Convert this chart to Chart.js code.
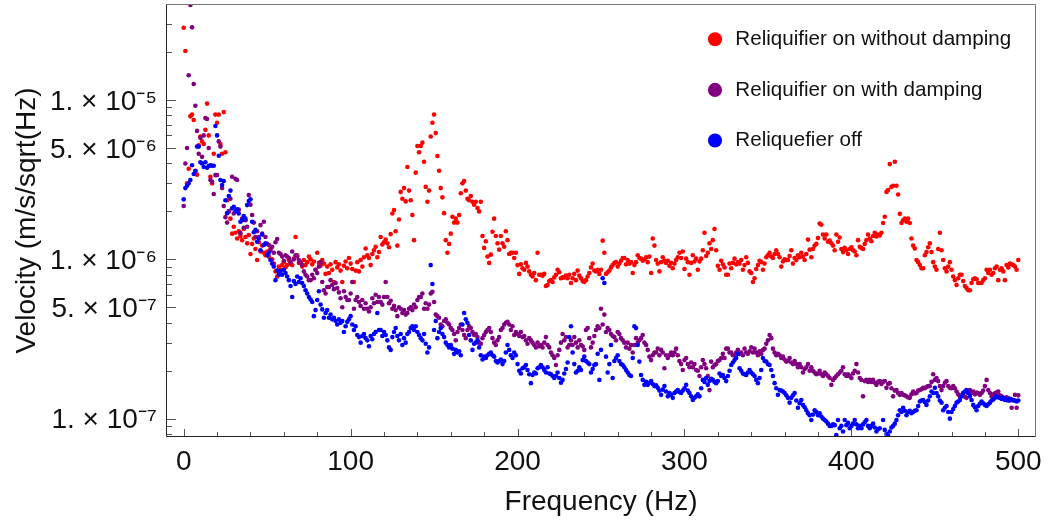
<!DOCTYPE html>
<html><head><meta charset="utf-8">
<script src="https://cdn.jsdelivr.net/npm/chart.js@4/dist/chart.umd.min.js"></script>
<style>html,body{margin:0;padding:0;background:#fff;}#wrap{width:1049px;height:525px;}</style>
</head><body><div id="wrap"><canvas id="c" width="1049" height="525"></canvas></div>
<script>
const seriesLabels = ['Reliquifier on without damping', 'Reliquifier on with damping', 'Reliquefier off'];
const seriesColors = ['#ff0000', '#800080', '#0000ff'];
const valueUnit = 1e-7; // values below are in units of 1e-7 m/s/sqrt(Hz)
const freqHz = Array.from({length: 501}, (_, i) => i); // 0..500 Hz, 1 Hz bins

const onNoDamping = [
284,203,30,37,79,81,75,36,34,52,
59,55,53,65,95,60,33,30,46,81,
72,81,53,46,84,47,23.5,20,18,14.5,
16,14.7,13.5,15,14,13.2,15.5,13.8,12.6,14.2,
10.8,12.5,13.5,11.6,9.9,12.8,11.2,12.2,11,10.6,
11.2,10.4,11.7,10,9.4,8.4,7.8,9,8.6,9.2,
9.6,8.9,9.2,9.9,9.4,9.2,10.1,13.8,10.6,9.5,
9.6,9.0,9.9,9.2,9.6,10.4,10,9.3,9.7,8.6,
11,9.5,9.1,9.9,9.4,8.1,9.0,8.2,9.3,8.6,
7.2,9.6,8.9,9.3,8.5,7.2,9.1,9.7,8.8,10.2,
9.4,8.7,7.2,8.5,9.6,8.4,9.9,9.0,10.3,11.7,
10.6,10.2,9.2,10.8,11.4,12,10.3,11.1,13.8,12.4,
12.8,13.3,12.6,11.9,14.4,19.4,20.4,15,12.2,17.8,
26.5,24,28,23.1,38,27,23.5,19,13.2,35,
51.5,47,51.5,54,41,28.5,23,27,59,72,
81,62,44.5,36,28,24.5,19.5,13.2,11,12.5,
14.5,18.5,17,18,17,19,26,30,31,27,
24,23.5,25,23,22,23,21,20,23,14,
11.8,13,10.4,9.5,10.7,14.9,18,14,12.6,11.5,
14,12.6,12,15,13.2,10.8,11,11,10.2,11,
9.2,8.1,9.3,8.8,8.6,9.5,9.0,8.4,8,7.8,
8.2,7.4,11,8,8,7.9,8.1,6.8,6.9,7.3,
7.4,7.2,7.7,8.0,8.6,8.3,7.6,7.7,7.7,7.9,
7.6,8.0,7.1,7.6,8.1,7.4,8.5,7.9,7.6,7.3,
7.2,7.4,7.8,8.2,8.9,9.4,8.5,8.4,8.6,8.1,
8.6,13.1,11,8.1,8.3,8.5,8.9,9.2,9.5,9.6,
9,9.4,9.8,10.2,10.2,9.3,9.9,9.4,9.6,8.2,
9.2,9.6,10.6,10.2,10.1,9.8,10,10.3,9.6,10.4,
8.2,13.5,12.2,9.9,9.4,8.4,9.6,10.3,9.8,9.5,
9.8,9.1,9.5,8.8,9.4,9.9,10.3,11,10.2,11.2,
8.7,10.1,9.6,8,9.5,10.6,9.7,10.1,8.6,9.7,
10.1,11.4,14.7,10.5,11,12.6,11.6,13.2,15.5,11.4,
9.1,8.6,9.8,9.3,8.9,8,8,9.4,8.8,9.5,
10.1,9.3,9.6,9.4,9.9,8.6,9.2,10.3,9.5,8.4,
8.2,7.2,7.6,8.7,9.2,9.8,9.6,8.6,9.4,10.3,
10.6,11,10.4,10.2,10.8,11.4,10.8,10.3,9,9.7,
10,9.9,9.9,10.5,11.4,9.4,10.2,9.9,10.6,10.3,
11,10.4,9.9,10.8,13.3,11.5,10.3,11.6,12.2,12.5,
13.6,16.8,16.5,14.3,13.5,14.3,12.9,13.1,12.6,12.2,
11.4,14.3,12.9,13.7,11.6,11.1,11.8,11.4,10.8,11.6,
11.9,11.4,11.2,10.6,13.2,12,11.8,11.6,12.5,13.2,
14.3,13.5,13,14,14.7,13.9,14.3,14.1,14.7,16.9,
18.5,26.5,27.2,39.6,28.5,29,41,29,25.5,19.3,
16.9,17.6,18,17.2,18,16.9,13.5,12.2,11.7,9.9,
9.6,9.2,8.8,8.8,10.6,11.1,11.9,12.6,11.1,9.6,
9.0,8.6,11.6,14.7,11.4,9.9,8.8,8.4,9,9.6,
8.6,7.8,7.4,6.9,7.6,8,8,7.3,6.8,6.6,
6.4,6.4,7.1,7.5,7.6,7.5,7.1,7.1,7.1,7.4,
7.6,8.6,8.2,8.6,8.0,8.2,8.8,9,7.4,8.6,
8.8,8.4,7.4,9.2,8.9,9.4,9.3,9.2,9,8.6,
9.9];

const onWithDamping = [
21.6,40,50,143,395,286,126,92,64,46,
58,44,60,77,76,50,31.5,30.7,25.7,33.8,
33.8,55,51,28,21.6,18.4,17,20,24,33,
19.4,32,31.5,20.5,14.6,18,15.8,17.6,16,25.3,
22,19,17,13.8,15,13.8,16.4,14.5,17.2,13.8,
12.5,12.3,11.4,12,11,12.8,13.4,11,10.8,10.4,
9.8,10.6,10.4,10.2,9.6,11.2,10,10.6,10.4,9.9,
9.5,9.2,8.4,8,7.8,7.4,7.4,8,7.6,8.6,
8.2,9,9.6,7.2,6.4,6.1,6.7,6.7,7.4,6.9,
6.5,7.1,6.6,6.2,5.7,5,6.3,5.8,5.55,5.55,
6.1,7.2,4.9,5.55,5.8,5.4,5.1,5.55,4.9,5.3,
4.9,4.7,5.0,5.7,5.3,6,5.4,5.8,5.4,5.2,
5.8,7.2,5.8,5.3,5.5,4.9,5.1,4.8,4.4,5.0,
4.9,4.6,4.8,4.5,4.6,4.9,5.0,4.8,5.2,5.0,
5.55,5.8,5.8,6.1,4.9,5.3,4.9,5.2,6.1,6.25,
5.4,4.5,4.4,4.3,3.9,3.8,4.1,4.2,4.0,3.9,
3.7,3.6,3.4,3.1,3.5,3.7,3.9,3.6,3.35,3.2,
3.6,3.8,3.7,3.5,3.35,3.4,3.25,3.0,2.95,3.2,
3.35,3.5,3.6,3.7,3.5,3.2,3.0,2.9,3.1,3.25,
3.6,3.7,3.9,4.0,4.05,3.9,3.6,3.8,3.35,3.5,
3.4,3.3,3.5,3.25,3.3,3.1,2.95,3.2,3.1,3.0,
2.9,2.8,3.0,2.85,2.9,2.8,3.0,3.25,2.9,2.8,
2.6,2.5,2.4,2.17,2.5,2.7,3.0,3.4,3.1,3.25,
2.8,2.9,3.1,2.9,3.25,3.0,2.8,3.1,2.9,2.85,
2.7,3.6,3.7,3.2,2.8,3.0,3.3,3.6,3.8,3.7,
4.9,3.9,4.5,3.5,3.7,3.6,3.4,3.3,3.25,3.1,
3.5,3.4,3.2,3.1,3.0,2.8,3.0,2.75,2.9,2.6,
2.9,3.2,3.0,3.1,3.2,3.35,3.0,2.9,2.7,2.45,
2.33,2.5,2.6,2.6,2.75,2.5,2.7,2.6,2.07,2.5,
2.4,2.5,2.6,2.5,2.6,2.75,2.5,2.3,2.2,2.02,
2.33,2.4,2.2,2.1,2.25,2.1,2.2,2.02,2.0,1.85,
2.1,2.33,2.2,2.07,1.85,1.51,2.28,2.1,2.17,2.2,
2.3,2.33,2.4,2.55,2.4,2.75,2.75,2.6,2.6,2.5,
2.5,2.6,2.7,2.55,2.6,2.5,2.75,2.6,2.55,2.65,
2.8,2.6,2.75,2.6,2.5,2.65,2.55,2.7,2.75,2.95,
3.1,3.35,3.2,2.75,2.6,2.5,2.55,2.5,2.4,2.45,
2.35,2.28,2.3,2.4,2.25,2.2,2.3,2.2,2.1,2.2,
2.1,1.95,2.05,2.1,2.2,2.0,2.1,2.0,1.95,1.9,
1.92,2.0,1.9,1.85,1.95,1.9,1.85,1.8,1.63,1.75,
1.8,1.85,1.9,1.95,2.0,2.1,1.9,1.85,1.9,1.85,
1.8,1.92,2.0,2.2,1.95,1.8,1.75,1.38,1.72,1.75,
1.7,1.75,1.7,1.75,1.68,1.63,1.7,1.72,1.65,1.7,
1.72,1.56,1.65,1.67,1.55,1.38,1.5,1.51,1.45,1.41,
1.45,1.41,1.4,1.38,1.36,1.35,1.42,1.48,1.44,1.45,
1.5,1.51,1.53,1.56,1.55,1.58,1.6,1.6,1.7,1.9,
1.75,1.8,1.72,1.6,1.51,1.6,1.68,1.72,1.6,1.56,
1.55,1.6,1.55,1.48,1.42,1.38,1.4,1.45,1.37,1.35,
1.45,1.51,1.45,1.48,1.42,1.46,1.44,1.41,1.45,1.5,
1.6,1.75,1.51,1.45,1.38,1.42,1.44,1.46,1.48,1.4,
1.38,1.35,1.31,1.36,1.34,1.3,1.17,1.3,1.41,1.17,
1.4];

const reliqOff = [
23.8,28,29,30,31.5,39,34.3,35.8,51,51,
40.7,40,38,40.7,37.6,38.5,39,38.7,38.7,68.7,
60,44.7,31.5,29.3,31,23.5,19.5,25,27,20.9,
21.4,20,20.6,19.4,17.2,17.6,18.7,18,21.9,23.2,
23.8,17.2,14.8,15.3,12.9,13.5,11.4,14.3,12.3,12.6,
10.6,11,9.9,9.4,9.0,7.4,8.5,8,8.4,8,
8.6,8.2,7.8,7.4,6.8,5.8,7.3,7,7.8,7.2,
7.6,7.1,6.8,6.4,6.1,5.8,5.6,5.4,4.4,4.8,
5.55,6.3,5.2,4.85,4.3,4.6,4.8,4.3,4.5,4.2,
4.3,4.1,3.9,4.2,4.0,4.1,3.5,3.8,4.05,4.2,
4.4,3.9,3.6,3.8,3.35,3.25,3.0,3.3,3.4,3.2,
3.1,2.85,3.3,3.15,3.4,3.5,4.6,3.6,3.6,3.3,
3.5,3.35,3.1,2.8,2.7,3.25,3.5,3.7,3.3,3.1,
3.4,2.9,3.2,3.0,3.4,3.5,3.7,3.8,3.6,3.8,
3.5,3.35,3.2,3.1,3.4,2.95,2.6,2.8,9.2,7.0,
3.6,4.1,3.2,3.5,3.7,3.4,3.25,3.0,2.9,2.8,
2.9,2.75,2.55,2.7,2.6,2.65,2.5,3.9,4.6,4.2,
4.0,3.35,3.1,2.7,2.95,3.0,3.1,2.8,2.5,2.35,
2.45,2.4,2.5,2.55,2.6,2.5,2.45,2.3,2.25,2.3,
2.35,2.2,2.3,2.6,2.9,2.7,2.5,2.4,2.6,2.5,
2.2,2.0,1.92,2.07,2.1,2.17,2.02,1.9,1.67,1.88,
1.95,1.92,2.07,2.1,2.17,2.1,2.02,1.95,2.1,1.92,
1.9,1.85,1.8,1.85,1.95,1.8,1.68,1.75,1.92,2.05,
2.25,3.25,3.8,2.6,2.2,1.95,2.0,2.1,2.02,2.33,
2.45,2.3,2.25,2.2,1.95,2.05,2.17,2.2,2.55,1.75,
2.7,7.6,7.1,2.45,1.95,2.2,2.9,1.8,2.3,2.4,
2.5,2.3,2.2,2.17,2.1,2.02,1.95,1.88,1.85,2.4,
3.8,3.7,2.9,2.28,1.88,1.75,1.63,1.7,1.63,1.68,
1.72,1.65,1.6,1.62,1.56,1.5,1.41,1.52,1.6,1.48,
1.38,1.45,1.41,1.35,1.45,1.48,1.51,1.47,1.45,1.5,
1.55,1.63,1.5,1.45,1.38,1.31,1.35,1.38,1.42,1.38,
1.55,1.75,1.7,1.8,1.63,1.72,1.78,1.75,1.7,1.67,
1.72,1.92,1.85,1.88,1.8,1.72,1.85,2.0,2.17,2.25,
2.33,2.4,2.55,2.07,2.0,1.92,1.9,1.88,1.95,2.02,
1.95,1.9,1.85,1.75,1.67,1.8,2.02,2.4,2.3,2.28,
2.2,2.17,2.02,1.85,1.67,1.55,1.41,1.51,1.5,1.48,
1.45,1.4,1.35,1.26,1.35,1.4,1.45,1.3,1.17,1.25,
1.31,1.22,1.18,1.13,1.08,1.05,0.98,1.06,1.13,1.1,
1.05,1.08,1.03,1.0,0.98,0.96,0.93,0.9,0.9,0.92,
0.91,0.79,0.98,0.87,0.9,0.83,0.98,0.91,0.94,0.87,
0.9,0.93,0.98,0.92,0.87,0.9,0.87,0.92,0.95,0.98,
0.9,0.87,0.9,0.93,0.88,0.83,0.86,0.87,0.75,0.98,
0.85,0.8,0.78,0.83,0.88,0.9,0.93,0.98,1.05,1.13,
1.1,1.17,1.12,1.05,1.1,1.12,1.08,1.1,1.12,1.13,
1.2,1.28,1.3,1.31,1.27,1.22,1.3,1.38,1.48,1.45,
1.56,1.45,1.38,1.3,1.26,1.13,1.17,1.2,1.1,1.0,
1.1,1.15,1.2,1.26,1.28,1.31,1.38,1.45,1.48,1.51,
1.45,1.38,1.31,1.22,1.18,1.13,1.2,1.24,1.28,1.25,
1.22,1.2,1.23,1.26,1.3,1.32,1.35,1.38,1.36,1.35,
1.33,1.35,1.32,1.31,1.3,1.33,1.32,1.31,1.3,1.28,
1.3];

const xTickValues = [0,20,40,60,80,100,120,140,160,180,200,220,240,260,280,300,320,340,360,380,400,420,440,460,480,500];
const xLabeledTicks = [0,100,200,300,400,500];
const yTickValues = [8e-8,9e-8,1e-7,2e-7,3e-7,4e-7,5e-7,6e-7,7e-7,8e-7,9e-7,1e-6,2e-6,3e-6,4e-6,5e-6,6e-6,7e-6,8e-6,9e-6,1e-5,2e-5,3e-5];
const yLabeledTicks = [1e-5, 5e-6, 1e-6, 5e-7, 1e-7];
const yTickLabels = ['1. \u00d7 10\u207b\u2075', '5. \u00d7 10\u207b\u2076', '1. \u00d7 10\u207b\u2076', '5. \u00d7 10\u207b\u2077', '1. \u00d7 10\u207b\u2077'];

const allSeries = [onNoDamping, onWithDamping, reliqOff];

Chart.defaults.font.family = "'Liberation Sans', Arial, sans-serif";
Chart.defaults.color = '#111';

const frameTicks = {
  id: 'frameTicks',
  afterDatasetsDraw(chart) {
    const {ctx, chartArea: a, scales: {x, y}} = chart;
    ctx.save();
    ctx.lineWidth = 1;
    ctx.strokeStyle = '#555';
    ctx.beginPath();
    for (const v of yTickValues) {
      const py = Math.round(y.getPixelForValue(v)) + 0.5;
      const len = yLabeledTicks.includes(v) ? 9 : 5;
      ctx.moveTo(a.left, py); ctx.lineTo(a.left + len, py);
    }
    for (const v of xTickValues) {
      const px = Math.round(x.getPixelForValue(v)) + 0.5;
      const len = xLabeledTicks.includes(v) ? 7 : 4;
      ctx.moveTo(px, a.bottom); ctx.lineTo(px, a.bottom - len);
    }
    ctx.stroke();
    ctx.strokeStyle = '#777';
    ctx.beginPath();
    ctx.moveTo(a.left - 0.5, a.top - 0.5); ctx.lineTo(a.right + 0.5, a.top - 0.5);
    ctx.lineTo(a.right + 0.5, a.bottom + 0.5);
    ctx.stroke();
    ctx.strokeStyle = '#222';
    ctx.beginPath();
    ctx.moveTo(a.left - 0.5, a.top - 0.5); ctx.lineTo(a.left - 0.5, a.bottom + 0.5);
    ctx.lineTo(a.right + 0.5, a.bottom + 0.5);
    ctx.stroke();
    ctx.restore();
  }
};

const legendPlacer = {
  id: 'legendPlacer',
  afterLayout(chart) {
    const lg = chart.legend; if (!lg) return;
    const a = chart.chartArea;
    lg.left = a.right - 360; lg.right = lg.left + lg.width;
    lg.top = a.top - 6; lg.bottom = lg.top + lg.height;
  }
};

new Chart(document.getElementById('c'), {
  type: 'scatter',
  data: {
    datasets: allSeries.map((vals, k) => ({
      label: seriesLabels[k],
      data: vals.map((v, i) => ({x: freqHz[i], y: v * valueUnit})),
      backgroundColor: seriesColors[k],
      borderColor: seriesColors[k],
      borderWidth: 0,
      pointRadius: 2.3,
      pointHoverRadius: 2.3,
      clip: 0,
      order: 3 - k
    }))
  },
  options: {
    responsive: false,
    animation: false,
    devicePixelRatio: 1,
    events: [],
    layout: {padding: {top: 5, right: 14, left: 0, bottom: 0}},
    plugins: {
      tooltip: {enabled: false},
      legend: {
        position: 'chartArea', align: 'start',
        labels: {usePointStyle: true, pointStyle: 'circle', boxWidth: 20, boxHeight: 10, padding: 30, color: '#111', font: {size: 20.6},
          sort: (a, b) => a.datasetIndex - b.datasetIndex}
      }
    },
    scales: {
      x: {
        type: 'linear', min: -10, max: 510,
        afterBuildTicks: s => { s.ticks = xTickValues.map(v => ({value: v})); },
        afterFit: s => { s.height = 89; s.paddingLeft = 0; s.paddingRight = 0; },
        grid: {display: false, drawTicks: false}, border: {display: false},
        ticks: {autoSkip: false, maxRotation: 0, padding: 9, color: '#111', font: {size: 28},
          callback: v => xLabeledTicks.includes(v) ? String(v) : ''},
        title: {display: true, text: 'Frequency (Hz)', color: '#111', font: {size: 28, lineHeight: 1}, padding: {top: 0, bottom: 9}}
      },
      y: {
        type: 'logarithmic', min: 7.78e-8, max: 3.95e-5,
        afterBuildTicks: s => { s.ticks = yTickValues.map(v => ({value: v})); },
        afterFit: s => { s.width = 167; s.paddingTop = 0; s.paddingBottom = 0; },
        grid: {display: false, drawTicks: false}, border: {display: false},
        ticks: {autoSkip: false, padding: 10, labelOffset: 2, color: '#111', font: {size: 28},
          callback: v => { const i = yLabeledTicks.indexOf(v); return i >= 0 ? yTickLabels[i] : ''; }},
        title: {display: true, text: 'Velocity (m/s/sqrt(Hz)', color: '#111', font: {size: 28, lineHeight: 1}, padding: {top: 13, bottom: 0}}
      }
    }
  },
  plugins: [frameTicks, legendPlacer]
});
</script>
</body></html>
